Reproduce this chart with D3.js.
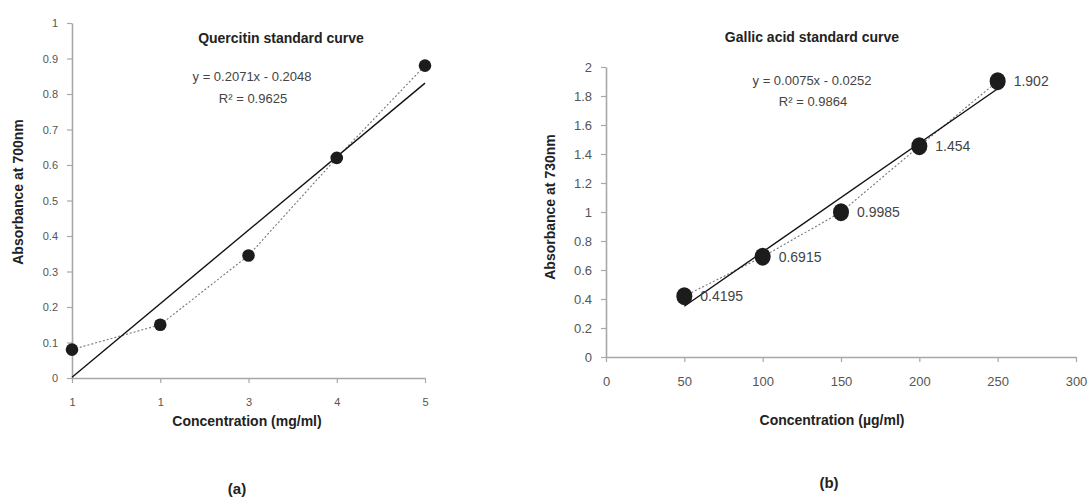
<!DOCTYPE html>
<html>
<head>
<meta charset="utf-8">
<script src="https://cdn.jsdelivr.net/npm/d3@7/dist/d3.min.js"></script>
<style>
  html, body { margin: 0; padding: 0; background: #fff; }
  svg { display: block; font-family: "Liberation Sans", Arial, sans-serif; }
</style>
</head>
<body>
<svg id="chart" width="1089" height="500"></svg>
<script>
// ---------- Data: (a) Quercitin ----------
const quercX = [1, 2, 3, 4, 5];
const quercXLabels = ["1", "1", "3", "4", "5"];
const quercY = [0.08, 0.15, 0.345, 0.62, 0.88];
const quercYTicks = [0, 0.1, 0.2, 0.3, 0.4, 0.5, 0.6, 0.7, 0.8, 0.9, 1];
const quercYTickLabels = ["0", "0.1", "0.2", "0.3", "0.4", "0.5", "0.6", "0.7", "0.8", "0.9", "1"];
const quercFit = [0.2071, -0.2048];
const quercR2 = "0.9625";

// ---------- Data: (b) Gallic acid ----------
const gallicX = [50, 100, 150, 200, 250];
const gallicY = [0.4195, 0.6915, 0.9985, 1.454, 1.902];
const gallicLabels = ["0.4195", "0.6915", "0.9985", "1.454", "1.902"];
const gallicXTicks = [0, 50, 100, 150, 200, 250, 300];
const gallicYTicks = [0, 0.2, 0.4, 0.6, 0.8, 1, 1.2, 1.4, 1.6, 1.8, 2];
const gallicYTickLabels = ["0", "0.2", "0.4", "0.6", "0.8", "1", "1.2", "1.4", "1.6", "1.8", "2"];
const gallicFit = [0.0075, -0.0252];
const gallicR2 = "0.9864";

const svg = d3.select("#chart");
const axisColor = "#a8a8a8";
const tickText = "#555";

function styleAxis(g, fontSize) {
  g.select(".domain").attr("stroke", axisColor).attr("stroke-width", 1.6);
  g.selectAll(".tick line").attr("stroke", axisColor).attr("stroke-width", 1.2);
  g.selectAll(".tick text").attr("fill", tickText).attr("font-size", fontSize)
    .attr("font-family", "'Liberation Sans', Arial, sans-serif");
}

function fmtEq(fit) {
  const s = fit[0].toFixed(4);
  const i = Math.abs(fit[1]).toFixed(4);
  return "y = " + s + "x " + (fit[1] < 0 ? "- " : "+ ") + i;
}

// ================= Chart (a) =================
{
  const x = d3.scaleLinear().domain([1, 5]).range([72, 425]);
  const y = d3.scaleLinear().domain([0, 1]).range([378, 23]);

  const gx = svg.append("g").attr("transform", `translate(0,${y(0)})`)
    .call(d3.axisBottom(x).tickValues(quercX).tickSize(5).tickSizeOuter(0).tickPadding(15)
      .tickFormat((d, i) => quercXLabels[i]));
  styleAxis(gx, 11);

  const gy = svg.append("g").attr("transform", `translate(${x(1)},0)`)
    .call(d3.axisLeft(y).tickValues(quercYTicks).tickSize(5).tickSizeOuter(0).tickPadding(9)
      .tickFormat((d, i) => quercYTickLabels[i]));
  styleAxis(gy, 11);

  // dotted connecting line
  svg.append("path")
    .datum(quercX.map((d, i) => [d, quercY[i]]))
    .attr("fill", "none").attr("stroke", "#777").attr("stroke-width", 1.1)
    .attr("stroke-dasharray", "2,2")
    .attr("d", d3.line().x(d => x(d[0])).y(d => y(d[1])));

  // trend line
  const tl = [1, 5].map(v => [v, quercFit[0] * v + quercFit[1]]);
  svg.append("path").datum(tl)
    .attr("fill", "none").attr("stroke", "#111").attr("stroke-width", 1.4)
    .attr("d", d3.line().x(d => x(d[0])).y(d => y(d[1])));

  svg.append("g").selectAll("circle").data(quercX).join("circle")
    .attr("cx", d => x(d)).attr("cy", (d, i) => y(quercY[i])).attr("r", 6.3)
    .attr("fill", "#1c1c1c");

  svg.append("text").attr("x", 281).attr("y", 43).attr("text-anchor", "middle")
    .attr("font-size", 14).attr("font-weight", "bold").attr("fill", "#222")
    .text("Quercitin standard curve");
  svg.append("text").attr("x", 252).attr("y", 81).attr("text-anchor", "middle")
    .attr("font-size", 13).attr("fill", "#444").text(fmtEq(quercFit));
  svg.append("text").attr("x", 253).attr("y", 103).attr("text-anchor", "middle")
    .attr("font-size", 13).attr("fill", "#444").text("R² = " + quercR2);

  svg.append("text").attr("x", 247).attr("y", 426).attr("text-anchor", "middle")
    .attr("font-size", 14).attr("font-weight", "bold").attr("fill", "#222")
    .text("Concentration (mg/ml)");
  svg.append("text").attr("transform", "translate(23,192) rotate(-90)")
    .attr("text-anchor", "middle")
    .attr("font-size", 14).attr("font-weight", "bold").attr("fill", "#222")
    .text("Absorbance at 700nm");

  svg.append("text").attr("x", 237).attr("y", 494).attr("text-anchor", "middle")
    .attr("font-size", 15).attr("font-weight", "bold").attr("fill", "#222").text("(a)");
}

// ================= Chart (b) =================
{
  const x = d3.scaleLinear().domain([0, 300]).range([606, 1076]);
  const y = d3.scaleLinear().domain([0, 2]).range([357, 67]);

  const gx = svg.append("g").attr("transform", `translate(0,${y(0)})`)
    .call(d3.axisBottom(x).tickValues(gallicXTicks).tickSize(5).tickSizeOuter(0).tickPadding(15)
      .tickFormat(d3.format("d")));
  styleAxis(gx, 13);

  const gy = svg.append("g").attr("transform", `translate(${x(0)},0)`)
    .call(d3.axisLeft(y).tickValues(gallicYTicks).tickSize(5).tickSizeOuter(0).tickPadding(9)
      .tickFormat((d, i) => gallicYTickLabels[i]));
  styleAxis(gy, 13);

  svg.append("path")
    .datum(gallicX.map((d, i) => [d, gallicY[i]]))
    .attr("fill", "none").attr("stroke", "#777").attr("stroke-width", 1.1)
    .attr("stroke-dasharray", "2,2")
    .attr("d", d3.line().x(d => x(d[0])).y(d => y(d[1])));

  const tl = [50, 250].map(v => [v, gallicFit[0] * v + gallicFit[1]]);
  svg.append("path").datum(tl)
    .attr("fill", "none").attr("stroke", "#111").attr("stroke-width", 1.4)
    .attr("d", d3.line().x(d => x(d[0])).y(d => y(d[1])));

  svg.append("g").selectAll("ellipse").data(gallicX).join("ellipse")
    .attr("cx", d => x(d)).attr("cy", (d, i) => y(gallicY[i]))
    .attr("rx", 8).attr("ry", 9).attr("fill", "#1c1c1c");

  svg.append("g").selectAll("text").data(gallicX).join("text")
    .attr("x", d => x(d) + 16).attr("y", (d, i) => y(gallicY[i]) + 5)
    .attr("font-size", 14).attr("fill", "#444")
    .text((d, i) => gallicLabels[i]);

  svg.append("text").attr("x", 812).attr("y", 42).attr("text-anchor", "middle")
    .attr("font-size", 14).attr("font-weight", "bold").attr("fill", "#222")
    .text("Gallic acid standard curve");
  svg.append("text").attr("x", 812).attr("y", 85).attr("text-anchor", "middle")
    .attr("font-size", 13).attr("fill", "#444").text(fmtEq(gallicFit));
  svg.append("text").attr("x", 813).attr("y", 106).attr("text-anchor", "middle")
    .attr("font-size", 13).attr("fill", "#444").text("R² = " + gallicR2);

  svg.append("text").attr("x", 832).attr("y", 425).attr("text-anchor", "middle")
    .attr("font-size", 14).attr("font-weight", "bold").attr("fill", "#222")
    .text("Concentration (µg/ml)");
  svg.append("text").attr("transform", "translate(555,207) rotate(-90)")
    .attr("text-anchor", "middle")
    .attr("font-size", 14).attr("font-weight", "bold").attr("fill", "#222")
    .text("Absorbance at 730nm");

  svg.append("text").attr("x", 829).attr("y", 488).attr("text-anchor", "middle")
    .attr("font-size", 15).attr("font-weight", "bold").attr("fill", "#222").text("(b)");
}
</script>
</body>
</html>
